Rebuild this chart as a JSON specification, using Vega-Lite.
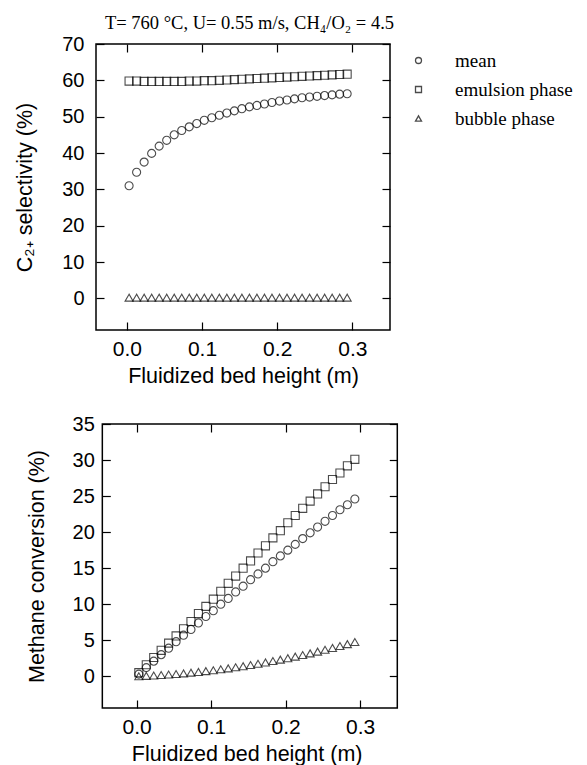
{
  "$schema": "https://vega.github.io/schema/vega-lite/v6.json",
  "background": "white",
  "padding": {"left": 14, "top": 12, "right": 5, "bottom": 0},
  "spacing": 26,
  "config": {
    "view": {"stroke": "black", "strokeWidth": 1.5},
    "axis": {
      "domain": false, "grid": false, "tickColor": "black", "tickSize": -8, "tickWidth": 1.2,
      "labelFont": "Liberation Sans", "labelFontSize": 20, "labelColor": "black",
      "titleFont": "Liberation Sans", "titleFontSize": 21.5, "titleFontWeight": "normal", "titleColor": "black"
    },
    "axisX": {"labelFontSize": 21},
    "legend": {
      "labelFont": "Liberation Serif", "labelFontSize": 19, "labelColor": "black",
      "symbolSize": 36, "symbolStrokeWidth": 1.3, "symbolStrokeColor": "black",
      "rowPadding": 9, "labelOffset": 27, "padding": 0
    }
  },
  "datasets": {
    "sel": [
      {"h": 0.003, "mean": 31.0, "emulsion phase": 59.8, "bubble phase": 0.2},
      {"h": 0.013, "mean": 34.7, "emulsion phase": 59.8, "bubble phase": 0.2},
      {"h": 0.023, "mean": 37.5, "emulsion phase": 59.7, "bubble phase": 0.2},
      {"h": 0.033, "mean": 39.9, "emulsion phase": 59.7, "bubble phase": 0.2},
      {"h": 0.043, "mean": 41.9, "emulsion phase": 59.7, "bubble phase": 0.2},
      {"h": 0.053, "mean": 43.5, "emulsion phase": 59.7, "bubble phase": 0.2},
      {"h": 0.063, "mean": 45.0, "emulsion phase": 59.7, "bubble phase": 0.2},
      {"h": 0.073, "mean": 46.2, "emulsion phase": 59.7, "bubble phase": 0.2},
      {"h": 0.083, "mean": 47.2, "emulsion phase": 59.8, "bubble phase": 0.2},
      {"h": 0.093, "mean": 48.1, "emulsion phase": 59.8, "bubble phase": 0.2},
      {"h": 0.103, "mean": 49.0, "emulsion phase": 59.9, "bubble phase": 0.2},
      {"h": 0.113, "mean": 49.7, "emulsion phase": 59.9, "bubble phase": 0.2},
      {"h": 0.123, "mean": 50.4, "emulsion phase": 60.0, "bubble phase": 0.2},
      {"h": 0.133, "mean": 51.0, "emulsion phase": 60.1, "bubble phase": 0.2},
      {"h": 0.143, "mean": 51.6, "emulsion phase": 60.2, "bubble phase": 0.2},
      {"h": 0.153, "mean": 52.2, "emulsion phase": 60.3, "bubble phase": 0.2},
      {"h": 0.163, "mean": 52.7, "emulsion phase": 60.4, "bubble phase": 0.2},
      {"h": 0.173, "mean": 53.1, "emulsion phase": 60.5, "bubble phase": 0.2},
      {"h": 0.183, "mean": 53.5, "emulsion phase": 60.6, "bubble phase": 0.2},
      {"h": 0.193, "mean": 53.9, "emulsion phase": 60.7, "bubble phase": 0.2},
      {"h": 0.203, "mean": 54.3, "emulsion phase": 60.8, "bubble phase": 0.2},
      {"h": 0.213, "mean": 54.6, "emulsion phase": 60.9, "bubble phase": 0.2},
      {"h": 0.223, "mean": 54.9, "emulsion phase": 61.0, "bubble phase": 0.2},
      {"h": 0.233, "mean": 55.2, "emulsion phase": 61.1, "bubble phase": 0.2},
      {"h": 0.243, "mean": 55.4, "emulsion phase": 61.2, "bubble phase": 0.2},
      {"h": 0.253, "mean": 55.6, "emulsion phase": 61.3, "bubble phase": 0.2},
      {"h": 0.263, "mean": 55.8, "emulsion phase": 61.4, "bubble phase": 0.2},
      {"h": 0.273, "mean": 56.0, "emulsion phase": 61.5, "bubble phase": 0.2},
      {"h": 0.283, "mean": 56.2, "emulsion phase": 61.6, "bubble phase": 0.2},
      {"h": 0.293, "mean": 56.3, "emulsion phase": 61.7, "bubble phase": 0.2}
    ],
    "conv": [
      {"h": 0.003, "mean": 0.3, "emulsion phase": 0.5, "bubble phase": 0.0},
      {"h": 0.013, "mean": 1.2, "emulsion phase": 1.6, "bubble phase": 0.06},
      {"h": 0.023, "mean": 2.1, "emulsion phase": 2.6, "bubble phase": 0.11},
      {"h": 0.033, "mean": 3.0, "emulsion phase": 3.6, "bubble phase": 0.17},
      {"h": 0.043, "mean": 3.9, "emulsion phase": 4.6, "bubble phase": 0.24},
      {"h": 0.053, "mean": 4.8, "emulsion phase": 5.6, "bubble phase": 0.32},
      {"h": 0.063, "mean": 5.7, "emulsion phase": 6.6, "bubble phase": 0.40},
      {"h": 0.073, "mean": 6.5, "emulsion phase": 7.6, "bubble phase": 0.50},
      {"h": 0.083, "mean": 7.4, "emulsion phase": 8.7, "bubble phase": 0.60},
      {"h": 0.093, "mean": 8.3, "emulsion phase": 9.7, "bubble phase": 0.72},
      {"h": 0.103, "mean": 9.1, "emulsion phase": 10.7, "bubble phase": 0.84},
      {"h": 0.113, "mean": 10.0, "emulsion phase": 11.8, "bubble phase": 0.97},
      {"h": 0.123, "mean": 10.8, "emulsion phase": 12.9, "bubble phase": 1.10},
      {"h": 0.133, "mean": 11.7, "emulsion phase": 13.9, "bubble phase": 1.25},
      {"h": 0.143, "mean": 12.5, "emulsion phase": 15.0, "bubble phase": 1.40},
      {"h": 0.153, "mean": 13.4, "emulsion phase": 16.0, "bubble phase": 1.57},
      {"h": 0.163, "mean": 14.2, "emulsion phase": 17.1, "bubble phase": 1.74},
      {"h": 0.173, "mean": 15.0, "emulsion phase": 18.1, "bubble phase": 1.92},
      {"h": 0.183, "mean": 15.9, "emulsion phase": 19.2, "bubble phase": 2.11},
      {"h": 0.193, "mean": 16.7, "emulsion phase": 20.2, "bubble phase": 2.31},
      {"h": 0.203, "mean": 17.5, "emulsion phase": 21.3, "bubble phase": 2.51},
      {"h": 0.213, "mean": 18.3, "emulsion phase": 22.3, "bubble phase": 2.73},
      {"h": 0.223, "mean": 19.1, "emulsion phase": 23.3, "bubble phase": 2.95},
      {"h": 0.233, "mean": 19.9, "emulsion phase": 24.3, "bubble phase": 3.18},
      {"h": 0.243, "mean": 20.7, "emulsion phase": 25.3, "bubble phase": 3.42},
      {"h": 0.253, "mean": 21.5, "emulsion phase": 26.3, "bubble phase": 3.67},
      {"h": 0.263, "mean": 22.3, "emulsion phase": 27.3, "bubble phase": 3.93},
      {"h": 0.273, "mean": 23.1, "emulsion phase": 28.2, "bubble phase": 4.19},
      {"h": 0.283, "mean": 23.8, "emulsion phase": 29.2, "bubble phase": 4.46},
      {"h": 0.293, "mean": 24.6, "emulsion phase": 30.1, "bubble phase": 4.75}
    ]
  },
  "resolve": {"scale": {"shape": "independent"}, "legend": {"shape": "independent"}},
  "vconcat": [
    {
      "width": 294,
      "height": 286,
      "title": {"text": "T= 760 °C,  U= 0.55 m/s,  CH₄/O₂ = 4.5", "font": "Liberation Serif", "fontSize": 18.5, "fontWeight": "normal", "anchor": "middle", "offset": 2, "dx": 6.5, "color": "black"},
      "data": {"name": "sel"},
      "transform": [{"fold": ["mean", "emulsion phase", "bubble phase"], "as": ["phase", "value"]}],
      "layer": [
        {
          "mark": {"type": "point", "filled": false, "color": "black", "strokeWidth": 1.1, "size": 65},
          "encoding": {
            "x": {"field": "h", "type": "quantitative", "scale": {"domain": [-0.041, 0.35], "nice": false, "zero": false},
                  "axis": {"values": [0, 0.1, 0.2, 0.3], "format": ".1f", "title": "Fluidized bed height  (m)", "labelPadding": 16, "titlePadding": 6}},
            "y": {"field": "value", "type": "quantitative", "scale": {"domain": [-8.7, 70], "nice": false, "zero": false},
                  "axis": {"values": [0, 10, 20, 30, 40, 50, 60, 70], "title": "C₂₊ selectivity  (%)", "labelPadding": 20, "titlePadding": 25}},
            "shape": {"field": "phase", "type": "nominal",
                      "scale": {"domain": ["mean", "emulsion phase", "bubble phase"], "range": ["circle", "square", "triangle-up"]},
                      "legend": {"title": null, "orient": "none", "legendX": 313, "legendY": 7}}
          }
        },
        {
          "mark": {"type": "point", "opacity": 0},
          "encoding": {
            "x": {"field": "h", "type": "quantitative", "axis": {"orient": "top", "labels": false, "title": null, "values": [0, 0.1, 0.2, 0.3]}},
            "y": {"field": "value", "type": "quantitative", "axis": {"orient": "right", "labels": false, "title": null, "values": [0, 10, 20, 30, 40, 50, 60, 70]}}
          }
        }
      ],
      "resolve": {"axis": {"x": "independent", "y": "independent"}}
    },
    {
      "width": 301.3,
      "height": 284,
      "view": {"stroke": null},
      "data": {"name": "conv"},
      "transform": [{"fold": ["mean", "emulsion phase", "bubble phase"], "as": ["phase", "value"]}],
      "layer": [
        {
          "data": {"values": [{"frame": 1}]},
          "mark": {"type": "rect", "fill": null, "stroke": "black", "strokeWidth": 1.5},
          "encoding": {
            "x": {"datum": -0.046, "type": "quantitative", "axis": null},
            "x2": {"datum": 0.35},
            "y": {"datum": -4.4, "type": "quantitative", "axis": null},
            "y2": {"datum": 35}
          }
        },
        {
          "mark": {"type": "point", "filled": false, "color": "black", "strokeWidth": 1.1, "size": 65},
          "encoding": {
            "x": {"field": "h", "type": "quantitative", "scale": {"domain": [-0.0545, 0.35], "nice": false, "zero": false},
                  "axis": {"values": [0, 0.1, 0.2, 0.3], "format": ".1f", "title": "Fluidized bed height  (m)", "labelPadding": 16, "titlePadding": 6}},
            "y": {"field": "value", "type": "quantitative", "scale": {"domain": [-4.4, 35], "nice": false, "zero": false},
                  "axis": {"values": [0, 5, 10, 15, 20, 25, 30, 35], "title": "Methane conversion  (%)", "offset": -6.3, "labelPadding": 16, "titlePadding": 24}},
            "shape": {"field": "phase", "type": "nominal",
                      "scale": {"domain": ["mean", "emulsion phase", "bubble phase"], "range": ["circle", "square", "triangle-up"]},
                      "legend": null}
          }
        },
        {
          "mark": {"type": "point", "opacity": 0},
          "encoding": {
            "x": {"field": "h", "type": "quantitative", "axis": {"orient": "top", "labels": false, "title": null, "values": [0, 0.1, 0.2, 0.3]}},
            "y": {"field": "value", "type": "quantitative", "axis": {"orient": "right", "labels": false, "title": null, "values": [0, 5, 10, 15, 20, 25, 30, 35]}}
          }
        }
      ],
      "resolve": {"axis": {"x": "independent", "y": "independent"}}
    }
  ]
}
